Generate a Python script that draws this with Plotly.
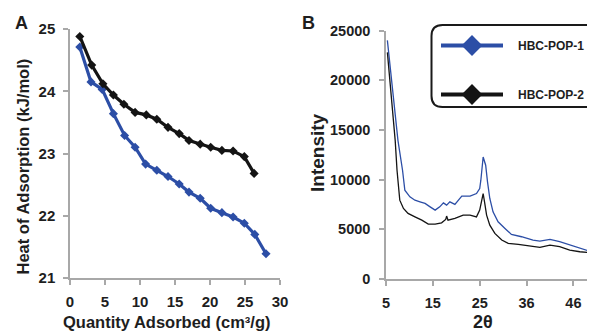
import plotly.graph_objects as go

# The page body has an 8px margin, so the figure is sized to fill the rest of the 595x333 window.
PAGE_W, PAGE_H, OFF = 595, 333, 8
W, H = PAGE_W - OFF, PAGE_H - OFF

# ---------------- data ----------------
# Panel A: heat of adsorption
qa_pop1 = [1.4, 3.0, 4.6, 6.2, 7.8, 9.3, 10.8, 12.4, 14.0, 15.6, 17.0, 18.6, 20.1, 21.7, 23.3, 24.9, 26.4, 28.0]
hoa_pop1 = [24.71, 24.15, 24.03, 23.64, 23.29, 23.10, 22.83, 22.73, 22.63, 22.51, 22.38, 22.28, 22.12, 22.05, 21.98, 21.88, 21.70, 21.39]
qa_pop2 = [1.4, 3.1, 4.7, 6.2, 7.7, 9.3, 10.9, 12.4, 14.0, 15.6, 17.0, 18.6, 20.1, 21.7, 23.3, 24.9, 26.3]
hoa_pop2 = [24.88, 24.42, 24.12, 23.94, 23.79, 23.66, 23.62, 23.55, 23.42, 23.32, 23.21, 23.15, 23.10, 23.05, 23.04, 22.95, 22.68]

# Panel B: PXRD
tt_pop1 = [5.3, 6.6, 7.6, 8.6, 9.1, 10.2, 11.3, 12.4, 13.5, 14.6, 15.7, 16.7, 17.5, 18.2, 18.9, 20.0,
           21.5, 23.3, 24.7, 25.4, 25.65, 26.15, 26.7, 27.1, 27.6, 28.3, 29.4, 30.9, 32.3, 34.5, 37.0,
           38.5, 40.7, 42.8, 45.0, 47.2, 49.7]
int_pop1 = [24000, 18000, 13950, 10940, 8940, 8270, 7930, 7760, 7600, 7260, 6930, 7260, 7660, 7430, 7760, 7500,
            8330, 8330, 8600, 9100, 9940, 12280, 11450, 9770, 8100, 6760, 5750, 5090, 4490, 4250, 3920,
            3820, 3990, 3750, 3410, 3080, 2740]
tt_pop2 = [5.3, 6.25, 7.0, 7.4, 8.0, 8.8, 9.8, 11.3, 12.8, 14.2, 15.7, 17.1, 18.0, 18.2, 18.5, 20.0,
           21.8, 23.3, 24.3, 24.7, 25.4, 26.15, 26.5, 26.9, 27.6, 28.7, 30.2, 31.6, 33.8, 37.0, 38.5,
           40.7, 42.8, 45.0, 47.2, 49.7]
int_pop2 = [22800, 18000, 13950, 10940, 7930, 7100, 6600, 6250, 5920, 5520, 5520, 5650, 5990, 6330, 5920, 6090,
            6430, 6430, 6250, 6250, 6930, 8600, 7600, 6430, 5420, 4590, 3920, 3580, 3480, 3250, 3180,
            3410, 3250, 2910, 2740, 2640]

xb_tickvals = [5, 15.2, 25.4, 35.6, 45.8]
xb_ticktext = ["5", "15", "25", "36", "46"]
yb_tickvals = [0, 5000, 10000, 15000, 20000, 25000]
yb_ticktext = ["0", "5000", "10000", "15000", "20000", "25000"]

names = ["HBC-POP-1", "HBC-POP-2"]
BLUE = "#2c4ea6"
BLACK = "#141414"
AXIS = "#a8a8a8"
TXT = "#1e1e1e"
FONT = "Liberation Sans, Arial, sans-serif"


def fx(px):
    return (px - OFF) / W


def fy(py):
    return 1 - (py - OFF) / H


fig = go.Figure()

# Panel A
fig.add_trace(go.Scatter(x=qa_pop1, y=hoa_pop1, mode="lines+markers", xaxis="x", yaxis="y",
                         line=dict(color=BLUE, width=3.2), marker=dict(symbol="diamond", size=7, color=BLUE),
                         showlegend=False))
fig.add_trace(go.Scatter(x=qa_pop2, y=hoa_pop2, mode="lines+markers", xaxis="x", yaxis="y",
                         line=dict(color=BLACK, width=3.2), marker=dict(symbol="diamond", size=7, color=BLACK),
                         showlegend=False))

# Panel B
fig.add_trace(go.Scatter(x=tt_pop1, y=int_pop1, mode="lines", xaxis="x2", yaxis="y2",
                         line=dict(color=BLUE, width=1.3), showlegend=False))
fig.add_trace(go.Scatter(x=tt_pop2, y=int_pop2, mode="lines", xaxis="x2", yaxis="y2",
                         line=dict(color=BLACK, width=1.3), showlegend=False))

# legend entries
for nm, col, grp in zip(names, [BLUE, BLACK], ["g1", "g2"]):
    fig.add_trace(go.Scatter(x=[None], y=[None], mode="lines+markers", name="\u00a0\u00a0\u00a0" + nm,
                             legendgroup=grp, xaxis="x2", yaxis="y2",
                             line=dict(color=col, width=4), marker=dict(symbol="diamond", size=16, color=col)))

tickfont = dict(family=FONT, size=15, color=TXT, weight="bold")
common = dict(showline=True, linecolor=AXIS, linewidth=1.5, ticks="outside", ticklen=5,
              tickcolor=AXIS, tickwidth=1.5, showgrid=False, zeroline=False)

fig.update_layout(
    width=W, height=H,
    margin=dict(l=0, r=0, t=0, b=0, autoexpand=False),
    paper_bgcolor="white", plot_bgcolor="white",
    font=dict(family=FONT, color=TXT),
    xaxis=dict(domain=[fx(70), fx(280)], range=[0, 30], tickvals=[0, 5, 10, 15, 20, 25, 30],
               anchor="y", tickfont=tickfont, ticklabelstandoff=4, **common),
    yaxis=dict(domain=[fy(278), fy(29)], range=[21, 25], tickvals=[21, 22, 23, 24, 25],
               anchor="x", tickfont=tickfont, ticklabelstandoff=5, **common),
    xaxis2=dict(domain=[fx(386), 1.0], range=[5, 50.5], tickvals=xb_tickvals, ticktext=xb_ticktext,
                anchor="y2", tickfont=dict(tickfont, size=14.5), ticklabelstandoff=5, **common),
    yaxis2=dict(domain=[fy(279), fy(30.5)], range=[0, 25000], tickvals=yb_tickvals, ticktext=yb_ticktext,
                anchor="x2", tickfont=dict(tickfont, size=14.5), ticklabelstandoff=6, **common),
    showlegend=True,
    legend=dict(x=fx(436), y=fy(31), xanchor="left", yanchor="top", bgcolor="rgba(0,0,0,0)",
                borderwidth=0, itemwidth=62, traceorder="grouped", tracegroupgap=30,
                font=dict(family=FONT, size=12, color=TXT, weight="bold")),
)

# rounded legend frame (partly beyond right edge)
x0, x1, y0, y1, r = 431.5, 610, 25, 107, 11
path = (f"M {fx(x0 + r)},{fy(y0)} L {fx(x1)},{fy(y0)} L {fx(x1)},{fy(y1)} L {fx(x0 + r)},{fy(y1)} "
        f"Q {fx(x0)},{fy(y1)} {fx(x0)},{fy(y1 - r)} L {fx(x0)},{fy(y0 + r)} "
        f"Q {fx(x0)},{fy(y0)} {fx(x0 + r)},{fy(y0)} Z")
fig.add_shape(type="path", path=path, xref="paper", yref="paper",
              line=dict(color="#1a1a1a", width=2), fillcolor="rgba(0,0,0,0)")

bold = lambda s: dict(family=FONT, size=s, color=TXT, weight="bold")
ann = [
    dict(text="A", x=fx(21), y=fy(23), font=bold(18)),
    dict(text="B", x=fx(308), y=fy(23), font=bold(18)),
    dict(text="Heat of Adsorption (kJ/mol)", x=fx(22.5), y=fy(167), font=bold(16.5), textangle=-90),
    dict(text="Quantity Adsorbed (cm³/g)", x=fx(166), y=fy(322), font=bold(16.5)),
    dict(text="Intensity", x=fx(317), y=fy(153), font=bold(19), textangle=-90),
    dict(text="2θ", x=fx(483), y=fy(322), font=bold(18)),
]
for a in ann:
    fig.add_annotation(xref="paper", yref="paper", showarrow=False, xanchor="center", yanchor="middle", **a)

fig.write_html("out.html")
